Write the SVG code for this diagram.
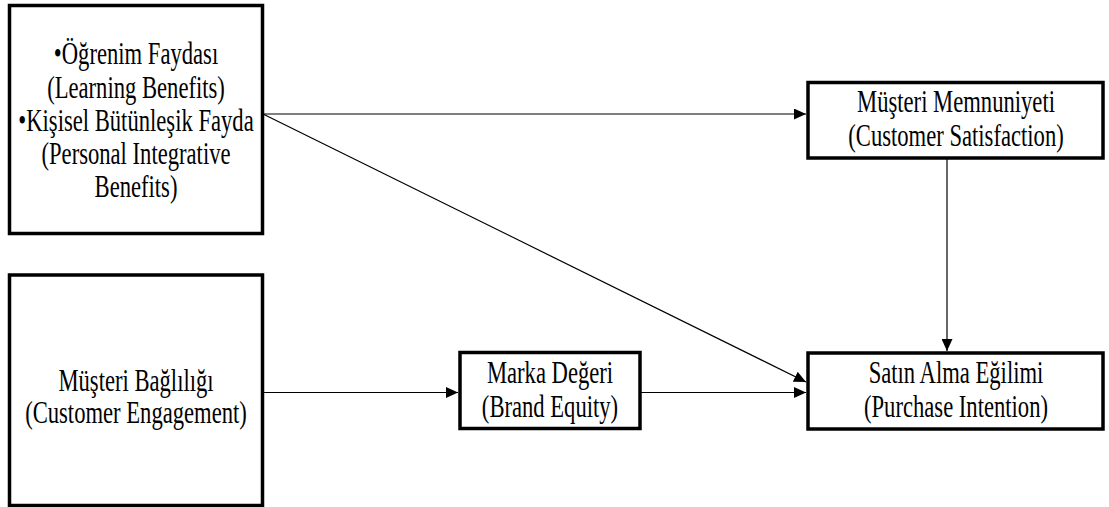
<svg xmlns="http://www.w3.org/2000/svg" width="1109" height="507" viewBox="0 0 1109 507">
  <style>
    .box { fill: #ffffff; stroke: #000000; stroke-width: 3.5; }
    .lbl { font-family: "Liberation Serif", "Times New Roman", serif; font-size: 31px; fill: #000000; text-anchor: middle; }
    .edge { fill: none; stroke: #000000; stroke-width: 1.2; }
  </style>
  <defs>
    <marker id="arrow" viewBox="0 0 12 11" refX="12" refY="5.5" markerWidth="12" markerHeight="11" markerUnits="userSpaceOnUse" orient="auto">
      <path d="M0,0 L12,5.5 L0,11 Z" fill="#000000"/>
    </marker>
  </defs>

  <rect width="1109" height="507" fill="#ffffff"/>

  <!-- connectors -->
  <g id="connectors">
    <line class="edge" x1="263" y1="114" x2="806" y2="114" marker-end="url(#arrow)"/>
    <line class="edge" x1="263" y1="114" x2="806" y2="382" marker-end="url(#arrow)"/>
    <line class="edge" x1="947" y1="158" x2="947" y2="351" marker-end="url(#arrow)"/>
    <line class="edge" x1="263" y1="392.5" x2="458" y2="392.5" marker-end="url(#arrow)"/>
    <line class="edge" x1="640" y1="392.5" x2="806" y2="392.5" marker-end="url(#arrow)"/>
  </g>

  <!-- benefits -->
  <g id="benefits">
    <rect class="box" x="9.5" y="5.5" width="253" height="228"/>
    <g transform="translate(136,0) scale(0.73,1)">
      <text class="lbl" x="0" y="64.5">•Öğrenim Faydası</text>
      <text class="lbl" x="0" y="97.7">(Learning Benefits)</text>
      <text class="lbl" x="0" y="130.9">•Kişisel Bütünleşik Fayda</text>
      <text class="lbl" x="0" y="164.1">(Personal Integrative</text>
      <text class="lbl" x="0" y="197.3">Benefits)</text>
    </g>
  </g>

  <!-- customer engagement -->
  <g id="engagement">
    <rect class="box" x="9.5" y="275" width="253" height="230.5"/>
    <g transform="translate(136,0) scale(0.73,1)">
      <text class="lbl" x="0" y="390.7">Müşteri Bağlılığı</text>
      <text class="lbl" x="0" y="422.7">(Customer Engagement)</text>
    </g>
  </g>

  <!-- customer satisfaction -->
  <g id="satisfaction">
    <rect class="box" x="808" y="82.5" width="295" height="75.5"/>
    <g transform="translate(956,0) scale(0.73,1)">
      <text class="lbl" x="0" y="112">Müşteri Memnuniyeti</text>
      <text class="lbl" x="0" y="146.5">(Customer Satisfaction)</text>
    </g>
  </g>

  <!-- brand equity -->
  <g id="brand-equity">
    <rect class="box" x="460" y="352.5" width="180" height="76"/>
    <g transform="translate(550,0) scale(0.73,1)">
      <text class="lbl" x="0" y="383">Marka Değeri</text>
      <text class="lbl" x="0" y="417.5">(Brand Equity)</text>
    </g>
  </g>

  <!-- purchase intention -->
  <g id="purchase-intention">
    <rect class="box" x="808" y="353" width="295" height="76"/>
    <g transform="translate(956,0) scale(0.73,1)">
      <text class="lbl" x="0" y="383">Satın Alma Eğilimi</text>
      <text class="lbl" x="0" y="417.5">(Purchase Intention)</text>
    </g>
  </g>
</svg>
